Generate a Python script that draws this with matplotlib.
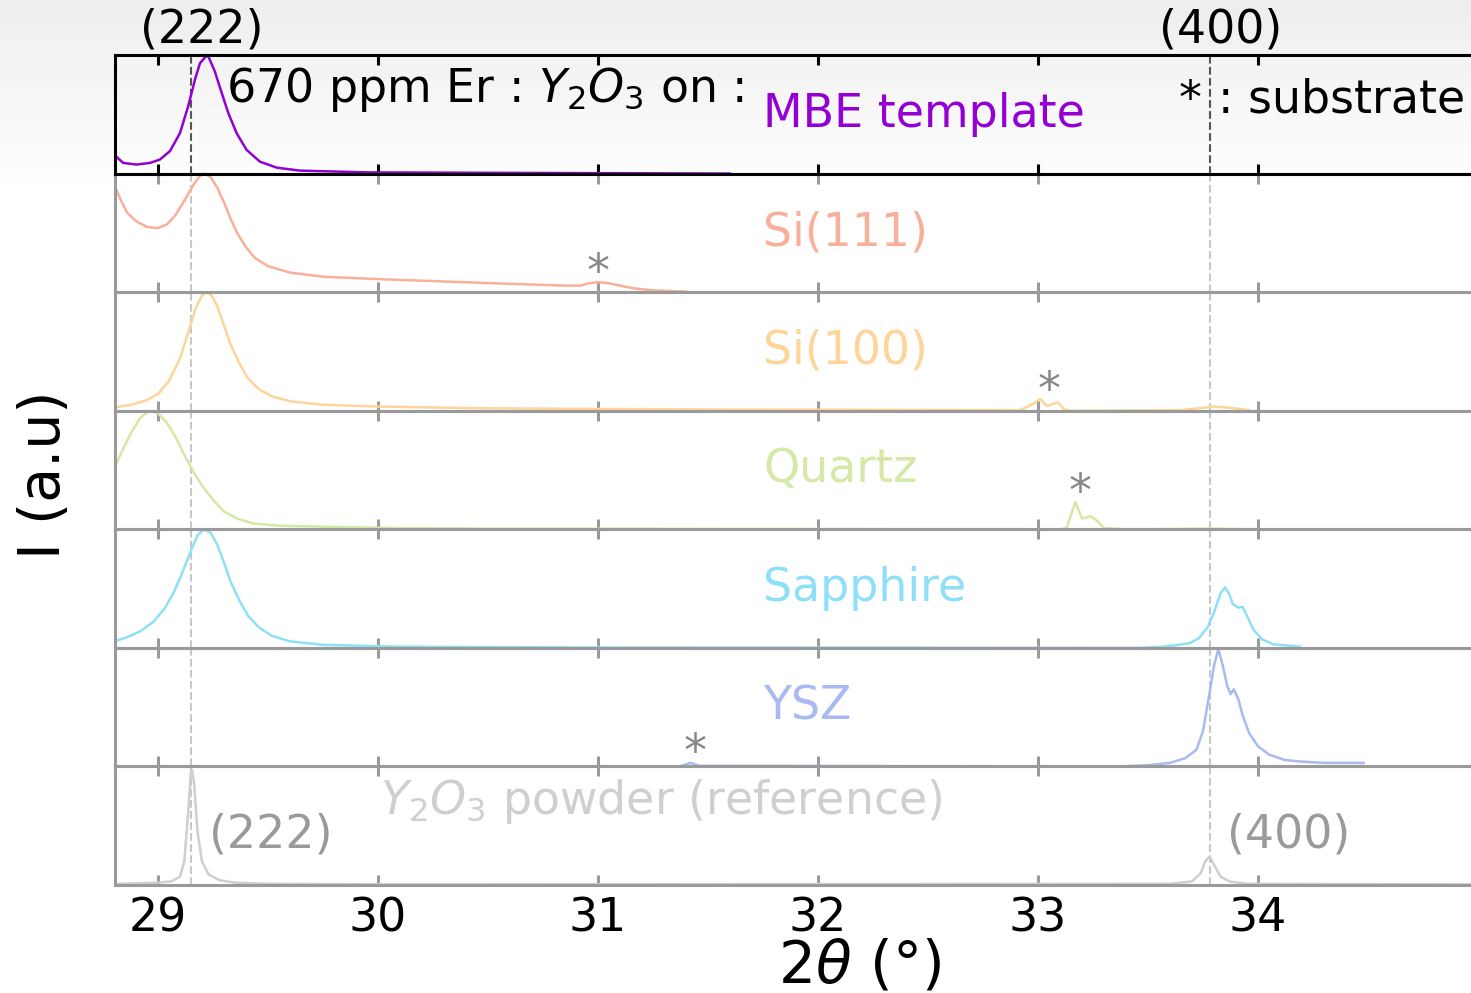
import numpy as np
import matplotlib
matplotlib.use("Agg")
import matplotlib.pyplot as plt

# ---------------- data ----------------
# each curve is normalised to its own panel (0 = panel floor, 1 = panel top)
names = ["MBE template", "Si(111)", "Si(100)", "Quartz", "Sapphire", "YSZ",
         "$Y_2O_3$ powder (reference)"]
colors = ["#9400d3", "#f9b09a", "#fdd59a", "#d5e8a5", "#8ee0f8", "#a8baf0", "#cfcfcf"]

mbe_x = [28.809, 28.842, 28.903, 28.964, 29.009, 29.055, 29.1, 29.138, 29.168, 29.191,
         29.214, 29.225, 29.236, 29.259, 29.29, 29.32, 29.358, 29.403, 29.464, 29.54,
         29.645, 29.95, 30.25, 30.9, 31.6]
mbe_y = [0.146, 0.09, 0.076, 0.09, 0.118, 0.19, 0.34, 0.57, 0.79, 0.93,
         0.98, 1.0, 0.96, 0.86, 0.68, 0.51, 0.34, 0.20, 0.10, 0.05,
         0.025, 0.01, 0.008, 0.004, 0.0]

si111_x = [28.81, 28.83, 28.86, 28.9, 28.95, 29.0, 29.04, 29.08, 29.12, 29.16, 29.19,
           29.215, 29.24, 29.27, 29.3, 29.33, 29.36, 29.4, 29.44, 29.5, 29.6, 29.75,
           30.0, 30.3, 30.6, 30.85, 30.92, 30.96, 31.0, 31.05, 31.1, 31.17, 31.25, 31.4]
si111_y = [0.87, 0.78, 0.67, 0.60, 0.55, 0.54, 0.57, 0.65, 0.77, 0.90, 0.98,
           1.0, 0.97, 0.88, 0.76, 0.62, 0.50, 0.38, 0.29, 0.22, 0.165, 0.13,
           0.11, 0.09, 0.07, 0.055, 0.055, 0.075, 0.085, 0.075, 0.055, 0.03, 0.015, 0.005]

si100_x = [28.81, 28.88, 28.95, 29.0, 29.05, 29.1, 29.14, 29.17, 29.2, 29.22, 29.245,
           29.27, 29.3, 29.33, 29.37, 29.41, 29.46, 29.52, 29.6, 29.75, 30.0, 30.5,
           31.5, 32.92, 32.98, 33.01, 33.04, 33.09, 33.12, 33.15, 33.65, 33.8, 33.87, 33.96]
si100_y = [0.03, 0.05, 0.09, 0.14, 0.25, 0.44, 0.67, 0.86, 0.97, 1.0, 0.97,
           0.88, 0.72, 0.56, 0.40, 0.27, 0.18, 0.12, 0.08, 0.05, 0.035, 0.02,
           0.01, 0.005, 0.06, 0.10, 0.04, 0.07, 0.01, 0.0, 0.005, 0.035, 0.025, 0.005]

quartz_x = [28.81, 28.84, 28.88, 28.92, 28.96, 29.0, 29.04, 29.08, 29.12, 29.16, 29.2,
            29.25, 29.3, 29.36, 29.43, 29.55, 29.8, 30.1, 30.6, 33.1, 33.13, 33.17,
            33.2, 33.24, 33.27, 33.3, 33.4, 33.78, 34.0]
quartz_y = [0.55, 0.67, 0.82, 0.94, 1.0, 0.98, 0.90, 0.78, 0.63, 0.49, 0.37,
            0.25, 0.15, 0.09, 0.05, 0.03, 0.02, 0.01, 0.005, 0.0, 0.01, 0.23,
            0.09, 0.11, 0.07, 0.01, 0.0, 0.005, 0.0]

sapph_x = [28.81, 28.86, 28.92, 28.98, 29.03, 29.07, 29.11, 29.15, 29.18, 29.21, 29.24,
           29.27, 29.3, 29.33, 29.37, 29.41, 29.46, 29.52, 29.6, 29.75, 30.1, 31.0,
           33.46, 33.55, 33.62, 33.69, 33.73, 33.77, 33.8, 33.83, 33.85, 33.87, 33.885,
           33.91, 33.93, 33.95, 33.98, 34.02, 34.07, 34.19]
sapph_y = [0.06, 0.09, 0.14, 0.22, 0.33, 0.46, 0.63, 0.82, 0.95, 1.0, 0.97,
           0.87, 0.72, 0.56, 0.40, 0.27, 0.17, 0.10, 0.055, 0.025, 0.01, 0.003,
           0.0, 0.008, 0.02, 0.04, 0.08, 0.17, 0.30, 0.46, 0.51, 0.45, 0.37,
           0.34, 0.345, 0.27, 0.15, 0.07, 0.03, 0.01]

ysz_x = [31.37, 31.42, 31.46, 33.37, 33.5, 33.6, 33.67, 33.72, 33.75, 33.78, 33.8,
         33.82, 33.84, 33.86, 33.875, 33.89, 33.91, 33.93, 33.96, 34.0, 34.05, 34.12,
         34.2, 34.3, 34.48]
ysz_y = [0.0, 0.03, 0.005, 0.0, 0.01, 0.03, 0.07, 0.14, 0.30, 0.62, 0.85,
         0.99, 0.85, 0.68, 0.61, 0.65, 0.57, 0.43, 0.28, 0.17, 0.10, 0.055,
         0.04, 0.03, 0.03]

powder_x = [28.81, 29.0, 29.06, 29.1, 29.12, 29.135, 29.15, 29.155, 29.165, 29.18, 29.2,
            29.23, 29.28, 29.35, 29.5, 30.1, 33.6, 33.7, 33.74, 33.76, 33.78, 33.8,
            33.83, 33.87, 33.95, 34.97]
powder_y = [0.01, 0.02, 0.03, 0.07, 0.2, 0.55, 0.95, 0.97, 0.85, 0.45, 0.2,
            0.09, 0.04, 0.02, 0.01, 0.005, 0.01, 0.03, 0.1, 0.2, 0.24, 0.17,
            0.07, 0.03, 0.01, 0.005]

curves = [(mbe_x, mbe_y), (si111_x, si111_y), (si100_x, si100_y), (quartz_x, quartz_y),
          (sapph_x, sapph_y), (ysz_x, ysz_y), (powder_x, powder_y)]

# substrate peaks marked with a star: (panel, x, y)
stars = [(1, 31.0, 0.16), (2, 33.05, 0.16), (3, 33.19, 0.30), (5, 31.44, 0.11)]

peak_222 = 29.15
peak_400 = 33.78
xticks = [29, 30, 31, 32, 33, 34]

# ---------------- figure ----------------
fig = plt.figure(figsize=(14.71, 9.93), dpi=100)

# faint grey band at the very top of the figure
bg = fig.add_axes([0, 0, 1, 1], zorder=-10)
grad = np.ones((200, 2))
grad[:40, :] = np.linspace(0.93, 1.0, 40)[:, None]
bg.imshow(grad, aspect="auto", cmap="gray", vmin=0, vmax=1, extent=[0, 1, 0, 1])
bg.axis("off")

left, right = 115 / 1471, 1.0
top, bottom = 1 - 55 / 993, 1 - 885 / 993
h = (top - bottom) / 7
grey = "#9a9a9a"
fs = 33

axes = []
for i in range(7):
    ax = fig.add_axes([left, top - (i + 1) * h, right - left, h], zorder=10 - i)
    ax.set_facecolor("none")
    x, y = curves[i]
    ax.plot(x, y, color=colors[i], lw=1.8, clip_on=False, solid_joinstyle="round")
    ax.set_xlim(28.805, 34.968)
    ax.set_ylim(0, 1)
    ax.set_yticks([])
    ax.set_xticks(xticks)
    c = "black" if i == 0 else grey
    for s in ["top", "bottom", "left"]:
        ax.spines[s].set_color(c)
        ax.spines[s].set_linewidth(2.2)
    ax.spines["right"].set_visible(False)
    ax.tick_params(axis="x", direction="in", top=True, bottom=True, length=7.5,
                   width=2.2, color=c, labelbottom=(i == 6), labelsize=fs, pad=8)
    dcol = "#555555" if i == 0 else "#c8c8c8"
    ax.axvline(peak_222, color=dcol, ls="--", lw=1.5, zorder=0)
    ax.axvline(peak_400, color=dcol, ls="--", lw=1.5, zorder=0)
    if i < 6:
        ax.text(31.75, 0.50, names[i], color=colors[i], fontsize=fs, va="center")
    axes.append(ax)

# top panel annotations
a0 = axes[0]
a0.text(29.2, 1.21, "(222)", fontsize=fs, ha="center", va="center")
a0.text(33.83, 1.21, "(400)", fontsize=fs, ha="center", va="center")
a0.text(29.31, 0.71, "670 ppm Er : $Y_2O_3$ on :", fontsize=fs, va="center")
a0.text(33.64, 0.62, "*", fontsize=fs, va="center")
a0.text(33.82, 0.62, ": substrate", fontsize=fs, va="center")

for p, sx, sy in stars:
    axes[p].text(sx, sy, "*", color="#888888", fontsize=fs, ha="center", va="center")

# reference powder panel
a6 = axes[6]
a6.text(30.01, 0.70, names[6], color=colors[6], fontsize=fs, va="center")
a6.text(29.23, 0.42, "(222)", color="#9a9a9a", fontsize=fs, va="center")
a6.text(33.86, 0.42, "(400)", color="#9a9a9a", fontsize=fs, va="center")

fig.text(860 / 1471, 1 - 966 / 993, r"$2\theta$ (°)", fontsize=42, ha="center", va="center")
fig.text(45 / 1471, 1 - 475 / 993, "I (a.u)", fontsize=41, rotation=90,
         ha="center", va="center")

fig.savefig("out.png", dpi=100)
